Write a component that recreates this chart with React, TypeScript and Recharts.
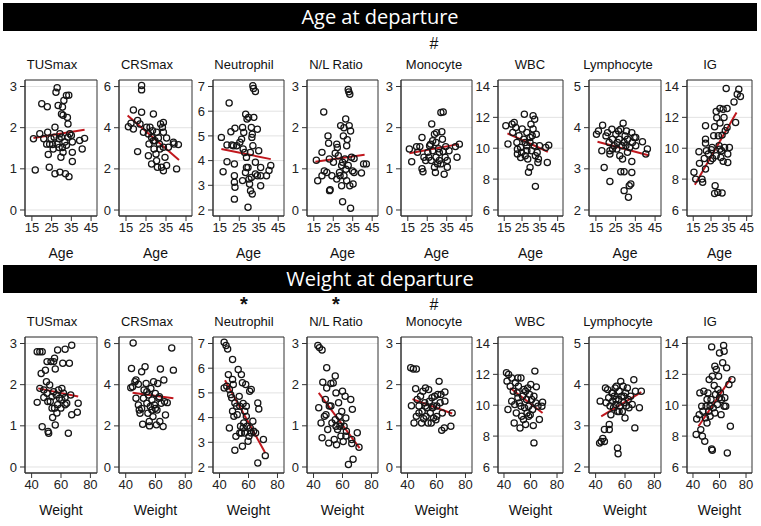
import {
  CartesianGrid,
  ReferenceArea,
  ReferenceLine,
  Scatter,
  ScatterChart,
  XAxis,
  YAxis
} from "recharts";

type Pt = [number, number];

// ---- Age at departure ----
const ageTusmax: Pt[] = [
  [16.7, 0.97], [15.8, 1.73], [20, 2.58], [22.8, 2.51], [19, 1.85], [21, 1.73], [22.5, 1.6], [23, 1.89],
  [23.3, 1.35], [23.8, 1.04], [24, 1.6], [25.5, 1.59], [26.3, 1.77], [26.7, 0.88], [27.2, 2.86], [27.8, 2.97],
  [29.2, 0.92], [28.3, 2.54], [28.8, 1.52], [26.7, 2.01], [29.2, 1.85], [29.7, 1.28], [30, 2.33], [30.8, 2.3],
  [30.5, 2.5], [31.2, 2.66], [32, 0.88], [32.5, 2.78], [33.7, 2.79], [33, 2.25], [33.3, 2.09], [33.3, 1.77],
  [33.8, 0.81], [35, 1.81], [35.5, 1.4], [35.5, 1.18], [35.5, 1.65], [30.8, 1.4], [31.7, 1.65], [30.5, 1.52],
  [32.5, 1.57], [39.2, 1.69], [40.5, 1.48], [41.7, 1.74], [27.8, 1.6], [28.8, 1.73], [25.8, 1.48], [30, 1.77],
  [34.2, 1.85], [24.7, 1.73]
];
const ageTusmaxFit: Pt[] = [[15.8, 1.75], [41.7, 1.95]];

const ageCrs: Pt[] = [
  [16.2, 4.05], [17.5, 4.22], [18.7, 3.94], [18.7, 4.86], [20.8, 2.84], [20.8, 4.35], [22, 4.18], [22.8, 6.05],
  [22.8, 5.84], [22.8, 4.75], [23.7, 3.78], [25.3, 4.02], [26.2, 3.7], [26.5, 3.21], [26.2, 2.64], [27.8, 2.24],
  [28.7, 4.67], [28.3, 3.86], [29.5, 3.37], [29, 2.97], [30.3, 2.4], [30.7, 2.08], [31.2, 3.5], [32, 2.97],
  [32.3, 4.18], [33.7, 4.26], [32.8, 2.08], [33.7, 1.91], [34.5, 2.56], [33.7, 3.05], [35.3, 3.5], [35.3, 2.16],
  [36.2, 3.05], [30.3, 3.78], [31.7, 3.21], [27.8, 3.53], [38.7, 3.29], [40.3, 2.0], [39, 3.21], [41.2, 3.18],
  [28.7, 3.37], [33.7, 3.78], [33.2, 4.02], [27, 4.02], [30, 2.72]
];
const ageCrsFit: Pt[] = [[15.8, 4.59], [41.5, 2.43]];

const ageNeut: Pt[] = [
  [15.8, 4.94], [16.7, 3.55], [18.7, 3.95], [19.8, 6.33], [18.7, 4.63], [20.7, 5.17], [21.2, 4.63], [22, 4.6],
  [22.8, 5.31], [22.5, 3.86], [22.5, 3.39], [22.5, 3.12], [22.8, 2.92], [22.5, 2.44], [23.7, 4.6], [25.3, 4.74],
  [26.2, 4.87], [26.7, 5.34], [26.7, 3.19], [27.3, 5.14], [27.8, 4.33], [28.2, 3.52], [28.3, 5.88], [28.7, 4.13],
  [29, 5.68], [29.5, 3.72], [29.8, 5.75], [30, 3.25], [30.3, 3.05], [30.7, 4.33], [30.8, 2.78], [29.5, 2.11],
  [31.2, 5.34], [31.5, 4.94], [31.7, 5.07], [32, 4.6], [32.5, 5.75], [32, 7.03], [32.3, 6.92], [33.3, 6.8],
  [31.7, 2.65], [33.3, 3.93], [34.3, 5.27], [34.3, 3.39], [35, 4.4], [36, 3.72], [36, 2.98], [36, 3.39],
  [33.3, 3.46], [31.2, 3.32], [39, 3.39], [40.3, 3.6], [41.2, 3.8], [28.7, 3.72], [27, 4.47]
];
const ageNeutFit: Pt[] = [[15.8, 4.47], [41.2, 4.06]];

const ageNl: Pt[] = [
  [16.3, 1.21], [17, 0.71], [19.2, 1.4], [20.1, 2.38], [20.4, 0.95], [19.2, 0.83], [21.7, 0.91], [22.3, 1.8],
  [22.6, 1.62], [23, 1.24], [23.1, 0.47], [23.4, 0.49], [24.3, 0.83], [25.1, 1.16], [26, 1.38], [26.8, 1.6],
  [27.1, 1.52], [26.8, 0.75], [27.6, 1.32], [28.2, 0.91], [28.8, 2.05], [29.3, 1.08], [29.3, 0.59], [29.8, 0.2],
  [30.2, 1.8], [30.5, 2.0], [31, 1.24], [31.4, 2.21], [31.9, 1.56], [31.9, 0.71], [32.2, 1.71], [32.7, 2.93],
  [33, 2.87], [33.5, 2.81], [33.2, 2.05], [33.9, 1.92], [33.5, 0.59], [33.9, 0.04], [34.4, 1.28], [35.2, 0.63],
  [35.7, 0.91], [35.7, 1.25], [31.5, 0.99], [29.8, 1.16], [28.5, 0.83], [34.9, 0.95], [39.5, 0.9], [40.6, 1.12],
  [42, 1.12], [30.5, 0.83], [32.7, 1.08]
];
const ageNlFit: Pt[] = [[15.8, 1.17], [41.1, 1.34]];

const ageMono: Pt[] = [
  [15.8, 1.48], [17, 1.17], [19.5, 1.54], [20, 1.4], [21.2, 1.54], [22.3, 1.76], [22.3, 1.0], [22.8, 0.93],
  [23.3, 1.28], [24.2, 1.2], [25.3, 1.4], [26.2, 1.56], [26.7, 1.6], [27.3, 2.09], [27, 1.2], [27.8, 1.44],
  [28.7, 1.84], [28.7, 1.04], [29.2, 0.91], [29.5, 1.28], [29.8, 1.88], [30.3, 1.12], [30.8, 1.49], [31.2, 1.2],
  [32, 2.37], [33.2, 2.38], [32.5, 1.9], [32.8, 1.72], [33.2, 1.42], [33.7, 0.87], [34.2, 1.28], [35.3, 1.2],
  [35.3, 1.04], [34.5, 1.54], [36.2, 1.44], [31.2, 1.4], [29.5, 1.64], [27.8, 1.68], [40.3, 1.28], [39.5, 1.54],
  [41.5, 1.6], [25.8, 1.28], [32, 1.12]
];
const ageMonoFit: Pt[] = [[15.8, 1.38], [41.2, 1.6]];

const ageWbc: Pt[] = [
  [15.9, 11.45], [17.1, 10.27], [19.4, 11.56], [20.6, 11.67], [19.8, 11.02], [21.5, 11.34], [22.1, 10.37],
  [22.4, 9.94], [22.4, 9.62], [23.3, 10.81], [24.2, 10.05], [24.7, 9.73], [25.1, 11.24], [26, 10.59],
  [26.3, 12.2], [26.8, 9.51], [27.7, 10.16], [27.7, 11.02], [28.2, 9.3], [28.6, 8.44], [29.5, 8.76],
  [29.5, 10.37], [30, 11.56], [30.3, 9.84], [30.7, 10.81], [31.2, 12.1], [32.1, 11.88], [31.8, 10.16],
  [32.5, 9.51], [33, 10.91], [32.5, 7.53], [33.5, 9.73], [33.9, 9.08], [34.2, 9.3], [34.8, 10.16],
  [31.2, 11.24], [29.5, 10.7], [26.8, 10.37], [39.2, 9.08], [40, 10.2], [38.3, 10.05], [24.2, 9.4], [27.7, 9.84]
];
const ageWbcFit: Pt[] = [[16.8, 10.96], [39.5, 9.77]];

const ageLymph: Pt[] = [
  [15.3, 3.84], [16.3, 3.92], [18.4, 4.06], [18, 3.44], [19.2, 3.03], [20.1, 3.8], [20.9, 3.88], [21.7, 3.64],
  [22.1, 3.44], [22.1, 3.36], [22.1, 2.69], [23.1, 3.96], [23.4, 3.72], [24.3, 3.56], [25.1, 3.84], [25.6, 3.48],
  [26.5, 3.92], [26.8, 3.72], [27.1, 3.32], [27.6, 3.96], [27.6, 2.93], [28.2, 3.56], [28.5, 3.24], [28.8, 4.11],
  [29.3, 2.93], [29.3, 2.47], [29.8, 3.8], [30.2, 3.56], [30.5, 3.92], [31, 3.4], [31.5, 2.31], [31.9, 2.59],
  [32.7, 2.63], [33.2, 3.88], [33.2, 3.18], [33.2, 2.91], [33.5, 3.64], [34.4, 3.76], [35.2, 3.56], [35.2, 3.76],
  [31, 3.72], [32.1, 3.52], [29.3, 3.64], [38.6, 3.66], [40.3, 3.36], [41.1, 3.48], [25.9, 3.64], [23.4, 3.48]
];
const ageLymphFit: Pt[] = [[15.8, 3.66], [41.6, 3.33]];

const ageIg: Pt[] = [
  [15.4, 8.44], [16.4, 8.0], [18.2, 9.77], [18.5, 9.02], [19.9, 8.0], [20.3, 7.79], [21.2, 9.34], [21.9, 11.45],
  [21.9, 10.59], [21.9, 10.33], [22.4, 9.84], [21.9, 8.65], [23.5, 9.62], [24.7, 9.19], [25.2, 9.9], [25.6, 10.05],
  [25.9, 9.34], [26.5, 10.81], [27, 11.39], [27, 7.07], [27.3, 7.57], [27.9, 12.38], [27.9, 9.51], [28.2, 11.97],
  [28.8, 7.14], [29.1, 10.81], [29.5, 10.16], [30, 11.63], [30, 12.57], [30.5, 9.4], [30.9, 9.84], [31.2, 10.85],
  [31.8, 9.15], [31.2, 7.1], [31.8, 12.53], [32.3, 11.99], [32.6, 10.05], [33, 11.13], [33.5, 13.87], [34, 11.34],
  [34.4, 9.08], [34.4, 9.62], [35.3, 10.05], [34, 12.57], [37.9, 13.0], [38.8, 11.67], [39.7, 13.5], [40.6, 13.82],
  [41.5, 13.35], [30, 9.94]
];
const ageIgFit: Pt[] = [[15.9, 7.64], [39.3, 12.31]];

// ---- Weight at departure ----
const wtTusmax: Pt[] = [
  [43.8, 2.8], [45.6, 2.8], [47.2, 2.8], [43.8, 1.57], [45.6, 1.91], [46.5, 2.27], [47.2, 0.98], [48.3, 1.69],
  [49.4, 2.35], [50.1, 2.07], [50.5, 2.56], [50.5, 1.79], [51, 1.59], [51.2, 0.86], [51.6, 0.82], [52.3, 1.99],
  [53.2, 2.56], [53.9, 1.71], [53.9, 1.43], [54.3, 1.2], [55, 2.56], [55.6, 2.64], [55.6, 1.43], [56.1, 1.02],
  [56.1, 2.38], [56.8, 1.75], [57.2, 1.31], [57.7, 2.84], [58.3, 1.87], [59, 1.67], [59.9, 1.43], [60.6, 1.63],
  [61.2, 2.52], [61.7, 1.79], [62.8, 2.86], [62.8, 1.69], [62.8, 1.51], [63.9, 1.55], [65, 0.82], [65.7, 2.52],
  [66.6, 1.75], [67.3, 2.96], [67.3, 1.27], [71.1, 1.33], [71.7, 1.55], [57.7, 1.51], [52.7, 1.59], [60.6, 1.91],
  [55, 1.83], [48.3, 1.87]
];
const wtTusmaxFit: Pt[] = [[44.5, 1.91], [71.7, 1.71]];

const wtCrs: Pt[] = [
  [45, 6.03], [43.9, 4.79], [43.4, 3.85], [44.6, 3.9], [46.2, 4.15], [46.9, 4.23], [48.5, 4.02], [48.5, 3.02],
  [49.1, 2.77], [49.6, 2.61], [50.7, 4.63], [51.4, 2.08], [51.9, 3.34], [52.3, 3.74], [53, 4.87], [53.7, 4.06],
  [54.2, 3.1], [54.9, 2.61], [55.3, 3.5], [55.8, 2.21], [56, 2.0], [56.5, 2.94], [56.9, 3.82], [57.6, 3.26],
  [58.3, 2.45], [58.7, 4.15], [59.2, 3.02], [59.9, 3.58], [60.6, 2.05], [61, 2.77], [61.5, 4.06], [62.2, 3.34],
  [62.9, 2.21], [63.3, 4.76], [63.8, 3.1], [65.1, 1.97], [65.6, 4.23], [66.1, 3.18], [66.7, 2.53], [67.9, 3.13],
  [70.9, 5.79], [72, 4.71], [54.2, 3.66], [50.7, 2.85], [57.6, 2.77], [46.9, 3.34], [59.9, 2.85], [62.6, 3.42]
];
const wtCrsFit: Pt[] = [[44.6, 3.61], [72, 3.34]];

const wtNeut: Pt[] = [
  [43.2, 7.05], [44.5, 6.92], [45.6, 6.78], [43.2, 5.2], [45, 5.27], [46.1, 5.74], [46.8, 5.14], [46.8, 3.58],
  [47.7, 4.93], [48.4, 4.8], [49, 6.35], [49, 5.54], [49.5, 5.34], [49, 4.26], [49.9, 4.05], [50.6, 4.59],
  [50.6, 2.68], [51.3, 3.24], [52.2, 4.12], [52.9, 5.95], [53.6, 4.86], [54, 4.46], [54.5, 3.65], [55.1, 5.74],
  [55.1, 3.38], [55.8, 2.84], [55.8, 5.41], [56.3, 4.57], [56.7, 3.78], [57.4, 4.26], [57.4, 3.38], [58.1, 5.34],
  [58.5, 4.05], [59, 3.65], [59.7, 3.04], [60.3, 3.24], [60.8, 5.07], [61.2, 3.58], [61.9, 5.14], [61.9, 3.38],
  [63, 3.85], [63.5, 3.45], [64.9, 3.38], [66.4, 4.59], [67.1, 4.35], [66.4, 2.16], [70.3, 3.11], [71.6, 2.46],
  [54, 3.38], [58.5, 4.46], [56.3, 3.58], [51.8, 4.46]
];
const wtNeutFit: Pt[] = [[43.8, 5.51], [71.6, 2.57]];

const wtNl: Pt[] = [
  [43, 2.95], [44.1, 2.9], [45.9, 2.84], [43.6, 1.44], [45.9, 0.71], [46.4, 2.06], [47.5, 1.23], [48.2, 1.64],
  [49.1, 2.41], [49.1, 1.92], [49.8, 0.91], [50.5, 0.58], [50.9, 1.48], [52, 2.03], [52.7, 1.07], [53.6, 2.04],
  [54.3, 0.67], [55, 2.21], [55, 1.15], [55.5, 1.8], [55.9, 0.54], [56.6, 0.91], [57.3, 1.56], [57.7, 1.23],
  [58.2, 0.99], [58.9, 0.75], [59.5, 1.35], [60, 1.84], [60.5, 0.62], [61.1, 0.99], [61.8, 1.72], [62.3, 1.19],
  [62.7, 0.87], [64.1, 0.06], [65.7, 1.64], [66.4, 0.67], [66.8, 1.4], [67.3, 0.19], [66.4, 0.57], [70.2, 0.83],
  [71.4, 0.48], [52, 1.48], [55.5, 0.99], [58.9, 1.07], [62.3, 0.75], [48.6, 1.27], [45.2, 1.07]
];
const wtNlFit: Pt[] = [[43.6, 1.8], [71.8, 0.46]];

const wtMono: Pt[] = [
  [42.2, 2.41], [44, 2.38], [46.1, 2.38], [42.7, 1.49], [44.5, 1.07], [45.6, 1.9], [46.1, 1.23], [46.7, 1.64],
  [47.9, 1.48], [49, 1.72], [49.7, 1.07], [50.1, 1.35], [50.6, 1.84], [51.2, 1.17], [51.9, 1.56], [52.4, 1.92],
  [52.8, 1.23], [53.5, 1.44], [54.2, 1.07], [54.6, 1.88], [55.1, 1.6], [55.7, 1.31], [56.4, 1.07], [56.9, 1.68],
  [57.3, 1.44], [58, 1.19], [58.7, 1.72], [59.6, 1.15], [60.2, 1.48], [60.9, 1.76], [61.8, 2.08], [62.5, 1.56],
  [63.1, 1.76], [63.6, 0.89], [64, 1.31], [65.4, 0.95], [65.8, 1.82], [65.8, 1.6], [69.9, 0.99], [70.8, 1.31],
  [52.4, 1.48], [47.9, 1.31], [58, 1.48], [60.2, 1.23]
];
const wtMonoFit: Pt[] = [[43.4, 1.65], [70.8, 1.3]];

const wtWbc: Pt[] = [
  [41.9, 12.1], [43.5, 11.99], [42.3, 11.56], [43, 9.72], [44.7, 11.23], [45.8, 11.77], [45.8, 10.26], [47, 10.91],
  [47.7, 8.85], [48.1, 10.04], [48.6, 11.45], [49.3, 9.5], [50, 10.8], [50.5, 11.77], [50.9, 11.23], [51.6, 10.15],
  [52.1, 8.53], [52.8, 11.77], [53.3, 9.29], [54, 10.58], [54.7, 9.07], [55.1, 11.02], [55.6, 9.83], [56.3, 8.75],
  [57, 10.37], [57.4, 9.5], [57.9, 11.12], [58.6, 9.94], [59.3, 10.69], [59.8, 9.39], [60.2, 11.34], [60.9, 10.37],
  [61.6, 9.72], [62.1, 8.68], [62.6, 10.58], [63.3, 12.21], [64, 10.15], [64.4, 11.19], [65.6, 9.94], [66.7, 9.07],
  [62.6, 7.56], [68.6, 9.94], [69.1, 10.19], [52.8, 9.94], [50.5, 10.48], [58.6, 9.29], [56.3, 10.91]
];
const wtWbcFit: Pt[] = [[44.7, 11.12], [69.1, 9.5]];

const wtLymph: Pt[] = [
  [42.7, 2.58], [43.8, 2.62], [44.9, 2.69], [46, 2.62], [43.1, 3.6], [46, 2.91], [46.7, 3.92], [47.1, 3.56],
  [48.2, 3.88], [48.9, 3.68], [49.3, 2.91], [49.3, 3.03], [49.8, 3.48], [50.4, 3.27], [51.1, 3.8], [51.6, 3.6],
  [52.2, 3.44], [52.7, 3.72], [53.3, 3.92], [53.8, 3.52], [54.2, 3.96], [54.9, 3.35], [54.9, 2.46], [55.3, 2.32],
  [55.6, 3.64], [56, 3.84], [56.4, 3.48], [57.1, 4.08], [57.8, 3.72], [58.2, 3.35], [58.7, 3.96], [59.3, 3.56],
  [60, 3.19], [60.4, 3.8], [60.9, 3.48], [61.6, 3.92], [62.2, 3.64], [62.7, 3.44], [63.8, 3.72], [64.9, 3.52],
  [66, 4.12], [66.7, 2.95], [67.1, 3.84], [69.8, 3.44], [71.1, 3.84], [51.6, 3.8], [56, 3.35], [59.3, 3.72],
  [53.8, 3.64]
];
const wtLymphFit: Pt[] = [[43.8, 3.23], [71.1, 3.82]];

const wtIg: Pt[] = [
  [42.4, 8.1], [42.8, 9.11], [44.7, 9.39], [45.2, 10.8], [45.9, 8.42], [46.6, 9.94], [47.1, 7.99], [47.5, 9.61],
  [48.2, 10.91], [48.9, 7.66], [49.4, 9.18], [49.9, 9.94], [50.6, 8.85], [51.3, 10.8], [51.8, 9.61], [52.2, 11.66],
  [52.9, 9.29], [53.6, 10.37], [54.1, 7.17], [54.6, 7.08], [54.1, 13.78], [54.6, 11.88], [55.3, 9.83], [56, 11.28],
  [56.5, 12.53], [57, 10.69], [57.6, 12.32], [58.4, 10.04], [58.8, 11.02], [59.3, 11.88], [60, 13.39], [60.7, 10.8],
  [61.2, 9.39], [61.6, 10.37], [62.4, 12.75], [63.1, 13.87], [63.5, 13.5], [64, 10.48], [64.7, 9.94], [65.4, 12.42],
  [65.9, 6.91], [67.1, 11.34], [68.2, 8.64], [69.4, 11.66], [63.5, 9.94], [50.6, 10.37], [52.9, 9.94], [56.5, 9.5],
  [60, 10.48]
];
const wtIgFit: Pt[] = [[44.2, 8.64], [68.7, 11.77]];

// ---- axes ----
const measures = ["TUSmax", "CRSmax", "Neutrophil", "N/L Ratio", "Monocyte", "WBC", "Lymphocyte", "IG"];
const yTickSets: number[][] = [
  [0, 1, 2, 3], [0, 2, 4, 6], [2, 3, 4, 5, 6, 7], [0, 1, 2, 3],
  [0, 1, 2, 3], [6, 8, 10, 12, 14], [2, 3, 4, 5], [6, 8, 10, 12, 14]
];
const yDomains: Pt[] = [
  [-0.146, 3.158], [-0.29, 6.32], [1.757, 7.263], [-0.146, 3.158],
  [-0.146, 3.158], [5.61, 14.42], [1.854, 5.158], [5.61, 14.42]
];
const ageTicks = [15, 25, 35, 45];
const weightTicks = [40, 60, 80];
const ageDomain: Pt = [11.5, 48];
const weightDomain: Pt = [35.5, 84.5];

const agePoints = [ageTusmax, ageCrs, ageNeut, ageNl, ageMono, ageWbc, ageLymph, ageIg];
const ageFits = [ageTusmaxFit, ageCrsFit, ageNeutFit, ageNlFit, ageMonoFit, ageWbcFit, ageLymphFit, ageIgFit];
const wtPoints = [wtTusmax, wtCrs, wtNeut, wtNl, wtMono, wtWbc, wtLymph, wtIg];
const wtFits = [wtTusmaxFit, wtCrsFit, wtNeutFit, wtNlFit, wtMonoFit, wtWbcFit, wtLymphFit, wtIgFit];

const ageMarks = ["", "", "", "", "#", "", "", ""];
const weightMarks = ["", "", "*", "*", "#", "", "", ""];

// layout of the plot frames
const frameLeft = [25, 119, 213, 307, 401, 498, 589, 687];
const frameRight = [97, 192, 284, 378, 472, 563, 661, 752];
const titleCenter = [52, 147, 244, 336, 434, 530, 618, 710];
const FRAME_H = 136;
const Y_AXIS_W = 26;
const X_AXIS_H = 50;
const FONT = '"Liberation Sans", Arial, sans-serif';

const ring = (p: any) => (
  <circle cx={p.cx} cy={p.cy} r={3.1} fill="none" stroke="#151515" strokeWidth={1.25} />
);

type PanelProps = {
  col: number;
  top: number;
  xLabel: string;
  xDomain: Pt;
  xTicks: number[];
  points: Pt[];
  fit: Pt[];
  mark: string;
  markTop: number;
};

function Panel({ col, top, xLabel, xDomain, xTicks, points, fit, mark, markTop }: PanelProps) {
  const left = frameLeft[col];
  const w = frameRight[col] - left;
  const yDomain = yDomains[col];
  const data = points.map(([x, y]) => ({ x, y }));
  const star = mark === "*";
  return (
    <>
      <div
        style={{
          position: "absolute", left: titleCenter[col] - 50, width: 100, top: top - 21,
          textAlign: "center", fontSize: 13, lineHeight: "12px", color: "#111"
        }}
      >
        {measures[col]}
      </div>
      {mark && (
        <div
          style={{
            position: "absolute", left: titleCenter[col] - 20, width: 40,
            top: star ? markTop - 3.2 : markTop - 1, textAlign: "center",
            fontSize: star ? 20 : 16, fontWeight: star ? 700 : 400,
            lineHeight: star ? "normal" : "20px", color: "#111"
          }}
        >
          {mark}
        </div>
      )}
      <div style={{ position: "absolute", left: left - Y_AXIS_W, top: top - 2 }}>
        <ScatterChart
          width={w + Y_AXIS_W + 2}
          height={FRAME_H + 2 + X_AXIS_H}
          margin={{ top: 2, right: 2, left: 0, bottom: 0 }}
        >
          <CartesianGrid vertical={false} stroke="#e2e2e2" />
          <XAxis
            type="number"
            dataKey="x"
            domain={xDomain}
            ticks={xTicks}
            interval={0}
            allowDataOverflow
            height={X_AXIS_H}
            tickSize={5}
            tickMargin={2}
            stroke="#333"
            tick={{ fill: "#222", fontSize: 13 }}
            label={{ value: xLabel, position: "insideBottom", offset: 8, fill: "#111", fontSize: 14 }}
          />
          <YAxis
            type="number"
            dataKey="y"
            domain={yDomain}
            ticks={yTickSets[col]}
            interval={0}
            allowDataOverflow
            width={Y_AXIS_W}
            tickSize={5}
            tickMargin={3}
            stroke="#333"
            tick={{ fill: "#222", fontSize: 13 }}
          />
          <ReferenceArea
            x1={xDomain[0]}
            x2={xDomain[1]}
            y1={yDomain[0]}
            y2={yDomain[1]}
            fill="none"
            stroke="#333"
            strokeWidth={1}
            ifOverflow="visible"
          />
          <Scatter data={data} isAnimationActive={false} shape={ring} />
          <ReferenceLine
            segment={[{ x: fit[0][0], y: fit[0][1] }, { x: fit[1][0], y: fit[1][1] }]}
            stroke="#c0171d"
            strokeWidth={2}
          />
        </ScatterChart>
      </div>
    </>
  );
}

function Banner({ top, text }: { top: number; text: string }) {
  return (
    <div
      style={{
        position: "absolute", left: 3, top, width: 754, height: 28, background: "#000",
        color: "#fff", textAlign: "center", fontFamily: '"Open Sans", sans-serif',
        fontSize: 20, lineHeight: "28px"
      }}
    >
      {text}
    </div>
  );
}

export default function App() {
  return (
    <div
      style={{
        position: "absolute", left: 0, top: 0, width: 761, height: 526,
        background: "#fff", fontFamily: FONT, overflow: "hidden"
      }}
    >
      <Banner top={3} text="Age at departure" />
      {measures.map((_, i) => (
        <Panel
          key={"a" + i}
          col={i}
          top={80}
          xLabel="Age"
          xDomain={ageDomain}
          xTicks={ageTicks}
          points={agePoints[i]}
          fit={ageFits[i]}
          mark={ageMarks[i]}
          markTop={35}
        />
      ))}
      <Banner top={265} text="Weight at departure" />
      {measures.map((_, i) => (
        <Panel
          key={"w" + i}
          col={i}
          top={337}
          xLabel="Weight"
          xDomain={weightDomain}
          xTicks={weightTicks}
          points={wtPoints[i]}
          fit={wtFits[i]}
          mark={weightMarks[i]}
          markTop={296}
        />
      ))}
    </div>
  );
}
